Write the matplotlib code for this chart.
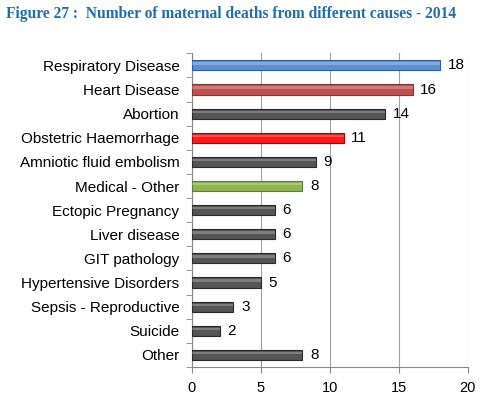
import matplotlib.pyplot as plt
import numpy as np

causes = ["Respiratory Disease", "Heart Disease", "Abortion", "Obstetric Haemorrhage",
          "Amniotic fluid embolism", "Medical - Other", "Ectopic Pregnancy", "Liver disease",
          "GIT pathology", "Hypertensive Disorders", "Sepsis - Reproductive", "Suicide", "Other"]
deaths = [18, 16, 14, 11, 9, 8, 6, 6, 6, 5, 3, 2, 8]
colors = ["#5b8fd6", "#c0504d", "#555555", "#ff1a1a", "#555555", "#8fb553", "#555555",
          "#555555", "#555555", "#555555", "#555555", "#555555", "#555555"]
edges = ["#2f5f9f", "#8a3330", "#2a2a2a", "#b00000", "#2a2a2a", "#5e7d30", "#2a2a2a",
         "#2a2a2a", "#2a2a2a", "#2a2a2a", "#2a2a2a", "#2a2a2a", "#2a2a2a"]

fig = plt.figure(figsize=(4.91, 3.97), dpi=100)
ax = fig.add_axes([0.391, 0.0756, 0.562, 0.79])

y = np.arange(len(causes))
ax.barh(y, deaths, height=0.42, color=colors, edgecolor=edges, linewidth=0.8, zorder=3)
# light highlight on top of each bar
ax.barh(y - 0.08, deaths, height=0.1, color="white", alpha=0.25, linewidth=0, zorder=4)

for yi, v in zip(y, deaths):
    ax.text(v + 0.55, yi, str(v), va="center", ha="left", fontsize=11, family="Liberation Sans")

ax.set_xlim(0, 20)
ax.set_ylim(len(causes) - 0.5, -0.5)
ax.set_xticks([0, 5, 10, 15, 20])
ax.set_yticks(y)
ax.set_yticklabels(causes, fontsize=11, family="Liberation Sans")
ax.set_yticks(np.arange(len(causes) + 1) - 0.5, minor=True)
ax.tick_params(axis="y", which="major", length=0, pad=9)
ax.tick_params(axis="y", which="minor", length=4, color="#888888", direction="out")
ax.tick_params(axis="x", length=4, color="#888888", labelsize=10.5, pad=6)
for lab in ax.get_xticklabels():
    lab.set_family("Liberation Sans")
ax.grid(axis="x", color="#a0a0a0", linewidth=0.8, zorder=0)
for s in ["top", "right"]:
    ax.spines[s].set_visible(False)
for s in ["left", "bottom"]:
    ax.spines[s].set_color("#888888")

fig.text(0.012, 0.965, "Figure 27 :  Number of maternal deaths from different causes - 2014",
         color="#1f6db5", fontsize=11.2, fontweight="bold", family="Liberation Serif", va="center")

fig.savefig("out.png", dpi=100)
